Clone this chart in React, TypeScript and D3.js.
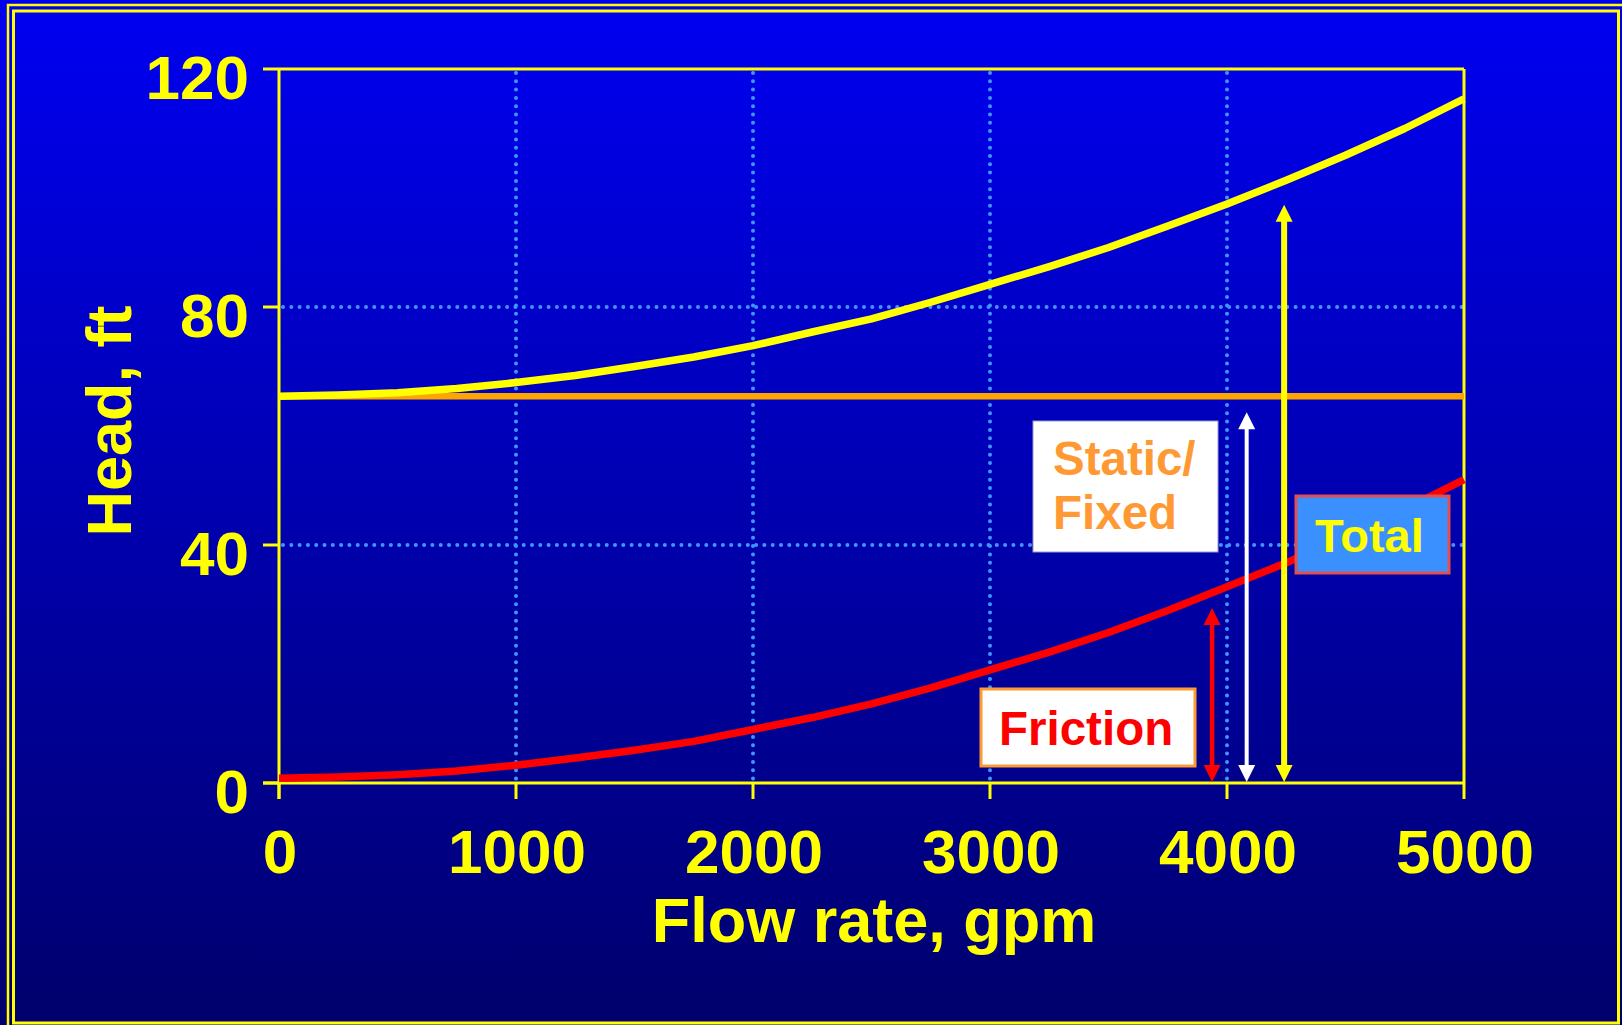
import React from "react";
import * as d3 from "d3";

// System curve: flow rate (gpm) vs head (ft)
const flowRates = [0, 250, 500, 750, 1000, 1250, 1500, 1750, 2000, 2250, 2500, 2750, 3000, 3250, 3500, 3750, 4000, 4250, 4500, 4750, 5000];
const frictionHead = [0.8, 1.0, 1.4, 2.0, 3.0, 4.2, 5.5, 7.0, 9.0, 11.0, 13.3, 16.0, 19.0, 22.0, 25.3, 29.0, 33.0, 37.0, 41.5, 46.0, 51.0];
const totalHead = [65.0, 65.2, 65.6, 66.3, 67.3, 68.5, 70.0, 71.6, 73.5, 75.8, 78.0, 80.8, 83.8, 86.8, 90.0, 93.6, 97.3, 101.3, 105.5, 110.0, 115.0];
const staticHead = 65;

const xTicks = [0, 1000, 2000, 3000, 4000, 5000];
const yTicks = [0, 40, 80, 120];
const xGrid = [1000, 2000, 3000, 4000];
const yGrid = [40, 80];

// Double-headed arrows showing the head components
const arrowFlows = [3937, 4083, 4241];
const arrowTops = [29.4, 62.3, 97.2];
const arrowColors = ["#FF0000", "#FFFFFF", "#FFFF00"];
const arrowShaftWidths = [4.5, 4, 6];

const W = 1622;
const H = 1025;
const plot = { left: 279, right: 1464, top: 69, bottom: 783 };
const FONT = "'Liberation Sans', Arial, Helvetica, sans-serif";
const YELLOW = "#FFFF00";

export default function App() {
  const x = d3.scaleLinear().domain([0, 5000]).range([plot.left, plot.right]);
  const y = d3.scaleLinear().domain([0, 120]).range([plot.bottom, plot.top]);

  const line = d3
    .line<number>()
    .x((_, i) => x(flowRates[i]))
    .y((d) => y(d));

  const arrows = arrowFlows.map((f, i) => {
    const ax = x(f);
    const yTop = y(arrowTops[i]);
    const yBot = y(0) - 1;
    const hw = 8.5;
    const hl = 17;
    return (
      <g key={i}>
        <line x1={ax} x2={ax} y1={yTop + hl - 1} y2={yBot - hl + 1} stroke={arrowColors[i]} strokeWidth={arrowShaftWidths[i]} />
        <polygon points={`${ax},${yTop} ${ax - hw},${yTop + hl} ${ax + hw},${yTop + hl}`} fill={arrowColors[i]} />
        <polygon points={`${ax},${yBot} ${ax - hw},${yBot - hl} ${ax + hw},${yBot - hl}`} fill={arrowColors[i]} />
      </g>
    );
  });

  return (
    <svg
      width={W}
      height={H}
      viewBox={`0 0 ${W} ${H}`}
      style={{ position: "fixed", left: 0, top: 0, display: "block" }}
      fontFamily={FONT}
      fontWeight="bold"
    >
      <defs>
        <linearGradient id="bg" x1="0" y1="0" x2="0" y2="1">
          <stop offset="0%" stopColor="#0000F2" />
          <stop offset="100%" stopColor="#00006C" />
        </linearGradient>
      </defs>
      <rect x={0} y={0} width={W} height={H} fill="url(#bg)" />

      {/* double frame */}
      <rect x={8} y={5} width={W + 20} height={H + 20} fill="none" stroke={YELLOW} strokeWidth={2.5} />
      <rect x={13.5} y={11} width={1605} height={1012} fill="none" stroke={YELLOW} strokeWidth={3} />

      {/* dotted grid */}
      {xGrid.map((v) => (
        <line key={"gx" + v} x1={x(v)} x2={x(v)} y1={plot.top + 4} y2={plot.bottom} stroke="#4096FF" strokeWidth={4} strokeLinecap="round" strokeDasharray="0 8.3" />
      ))}
      {yGrid.map((v) => (
        <line key={"gy" + v} x1={plot.left + 4} x2={plot.right} y1={y(v)} y2={y(v)} stroke="#4096FF" strokeWidth={4} strokeLinecap="round" strokeDasharray="0 8.3" />
      ))}

      {/* plot box */}
      <line x1={plot.left} x2={plot.right} y1={plot.top} y2={plot.top} stroke={YELLOW} strokeWidth={3} />
      <line x1={plot.right} x2={plot.right} y1={plot.top} y2={plot.bottom} stroke={YELLOW} strokeWidth={3} />
      <line x1={plot.left} x2={plot.left} y1={plot.top} y2={plot.bottom + 16} stroke={YELLOW} strokeWidth={3} />
      <line x1={plot.left - 16} x2={plot.right} y1={plot.bottom} y2={plot.bottom} stroke={YELLOW} strokeWidth={3} />

      {/* ticks and tick labels */}
      {yTicks.map((v) => (
        <g key={"yt" + v}>
          <line x1={plot.left - 16} x2={plot.left} y1={y(v)} y2={y(v)} stroke={YELLOW} strokeWidth={3} />
          <text x={249} y={y(v) + 30} textAnchor="end" fontSize={62} fill={YELLOW}>
            {v}
          </text>
        </g>
      ))}
      {xTicks.map((v) => (
        <g key={"xt" + v}>
          <line x1={x(v)} x2={x(v)} y1={plot.bottom} y2={plot.bottom + 16} stroke={YELLOW} strokeWidth={3} />
          <text x={x(v) + 1} y={plot.bottom + 90} textAnchor="middle" fontSize={62} fill={YELLOW}>
            {v}
          </text>
        </g>
      ))}

      {/* axis titles */}
      <text x={874} y={942} textAnchor="middle" fontSize={63} fill={YELLOW}>
        Flow rate, gpm
      </text>
      <text transform="translate(131,421) rotate(-90)" textAnchor="middle" fontSize={63} fill={YELLOW}>
        Head, ft
      </text>

      {/* curves */}
      <line x1={x(0)} x2={x(5000)} y1={y(staticHead)} y2={y(staticHead)} stroke="#FFA500" strokeWidth={6.5} />
      <path d={line(totalHead) ?? ""} fill="none" stroke={YELLOW} strokeWidth={7.5} strokeLinejoin="round" />
      <path d={line(frictionHead) ?? ""} fill="none" stroke="#FF0000" strokeWidth={7.5} strokeLinejoin="round" />

      {arrows}

      {/* labels */}
      <rect x={1033} y={421} width={185} height={131} fill="#FFFFFF" stroke="#9999CC" strokeWidth={1} />
      <text x={1053} y={475} fontSize={47.5} fill="#FF9933">
        Static/
      </text>
      <text x={1053} y={529} fontSize={47.5} fill="#FF9933">
        Fixed
      </text>

      <rect x={981} y={689} width={214} height={77} fill="#FFFFFF" stroke="#FF9933" strokeWidth={3} />
      <text x={999} y={745} fontSize={47.5} fill="#FF0000">
        Friction
      </text>

      <rect x={1296} y={496} width={153} height={77} fill="#3A90FF" stroke="#E05050" strokeWidth={3} />
      <text x={1315} y={552} fontSize={47} fill={YELLOW}>
        Total
      </text>
    </svg>
  );
}
